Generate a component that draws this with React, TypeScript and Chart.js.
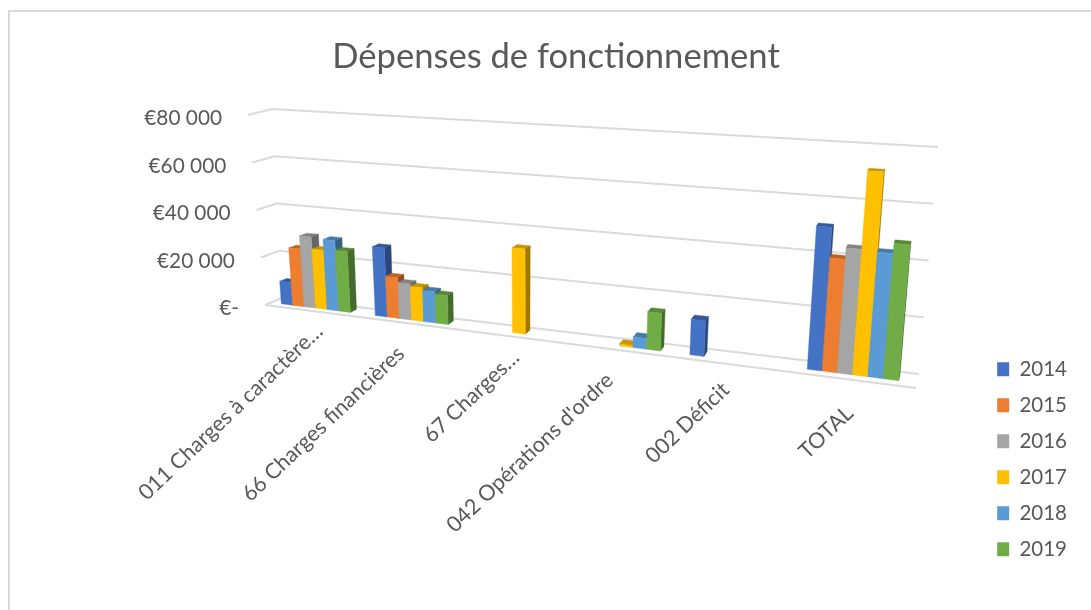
import React, { useEffect, useRef } from "react";
import { Chart, registerables } from "chart.js";

Chart.register(...registerables);

const categories = [
  "011 Charges à caractère…",
  "66 Charges financières",
  "67 Charges…",
  "042 Opérations d'ordre",
  "002 Déficit",
  "TOTAL",
];
const years = ["2014", "2015", "2016", "2017", "2018", "2019"];
const v2014 = [9500, 28000, null, null, 13000, 50800];
const v2015 = [24000, 16500, null, null, null, 40000];
const v2016 = [29500, 14500, null, null, null, 44000];
const v2017 = [24500, 13500, 33000, 700, null, 71500];
const v2018 = [29000, 12500, null, 4000, null, 43500];
const v2019 = [25000, 11500, null, 14000, null, 47000];
const seriesValues = [v2014, v2015, v2016, v2017, v2018, v2019];
const colors = ["#4472C4", "#ED7D31", "#A5A5A5", "#FFC000", "#5B9BD5", "#70AD47"];
const yTickValues = [0, 20000, 40000, 60000, 80000];

const FONT = "Lato";
const TEXT = "#595959";
const GRID = "#DADADA";

type Pt = [number, number];
const FRONT = { bl: [265, 305] as Pt, br: [916, 388] as Pt, tl: [248, 115] as Pt, tr: [937, 152] as Pt };
const BACK = { bl: [282, 298] as Pt, br: [919, 374] as Pt, tl: [272, 109] as Pt, tr: [938, 147] as Pt };
const PERSP = -0.155;
const BAR_FRONT = 0.38;
const BAR_BACK = 0.78;
const BAR_SHIFT = -2;

const lerp = (a: number, b: number, t: number) => a + (b - a) * t;
const bil = (q: typeof FRONT, u: number, v: number): Pt => {
  const bx = lerp(q.bl[0], q.br[0], u), by = lerp(q.bl[1], q.br[1], u);
  const tx = lerp(q.tl[0], q.tr[0], u), ty = lerp(q.tl[1], q.tr[1], u);
  return [lerp(bx, tx, v), lerp(by, ty, v)];
};
const proj = (u: number, v: number, d: number): Pt => {
  const s = ((1 + PERSP) * u) / (1 + PERSP * u);
  const f = bil(FRONT, s, v), b = bil(BACK, s, v);
  return [lerp(f[0], b[0], d), lerp(f[1], b[1], d)];
};
const barProj = (u: number, v: number, d: number): Pt => {
  const p = proj(u, v, d);
  return [p[0] + BAR_SHIFT, p[1]];
};
const shade = (hex: string, k: number) => {
  const n = parseInt(hex.slice(1), 16);
  return `rgb(${((n >> 16) & 255) * k},${((n >> 8) & 255) * k},${(n & 255) * k})`;
};
const poly = (ctx: CanvasRenderingContext2D, pts: Pt[], fill: string) => {
  ctx.beginPath();
  pts.forEach((p, i) => (i ? ctx.lineTo(p[0], p[1]) : ctx.moveTo(p[0], p[1])));
  ctx.closePath();
  ctx.fillStyle = fill;
  ctx.fill();
  ctx.strokeStyle = fill;
  ctx.lineWidth = 0.4;
  ctx.stroke();
};
const line = (ctx: CanvasRenderingContext2D, a: Pt, b: Pt) => {
  ctx.beginPath();
  ctx.moveTo(a[0], a[1]);
  ctx.lineTo(b[0], b[1]);
  ctx.stroke();
};

const labelEnds: Pt[] = [[8, 17], [-7, 27], [6, 18], [-8, 27], [-6, 22], [-3, 30]];

const perspective3D = {
  id: "perspective3D",
  beforeDraw(chart: any) {
    const ctx = chart.ctx as CanvasRenderingContext2D;
    ctx.save();
    ctx.strokeStyle = "#D9D9D9";
    ctx.lineWidth = 2;
    ctx.beginPath();
    ctx.moveTo(9, 610);
    ctx.lineTo(9, 11);
    ctx.lineTo(1091, 11);
    ctx.stroke();
    ctx.restore();
  },
  beforeDatasetDraw() {
    return false;
  },
  beforeDatasetsDraw(chart: any) {
    const ctx = chart.ctx as CanvasRenderingContext2D;
    const area = chart.chartArea;
    const W = area.right - area.left, H = area.bottom - area.top;
    const yScale = chart.scales.y;
    const xScale = chart.scales.x;
    ctx.save();
    // walls and floor
    ctx.strokeStyle = GRID;
    ctx.lineWidth = 2;
    yScale.ticks.forEach((t: any) => {
      const v = (area.bottom - yScale.getPixelForValue(t.value)) / H;
      line(ctx, proj(0, v, 0), proj(0, v, 1));
      line(ctx, proj(0, v, 1), proj(1, v, 1));
    });
    line(ctx, proj(0, 0, 0), proj(1, 0, 0));
    // value labels
    ctx.fillStyle = TEXT;
    ctx.font = `20.8px ${FONT}`;
    ctx.textAlign = "right";
    ctx.textBaseline = "middle";
    yScale.ticks.forEach((t: any) => {
      const v = (area.bottom - yScale.getPixelForValue(t.value)) / H;
      const p = proj(0, v, 0);
      ctx.fillText(t.label as string, p[0] - 26, p[1] + 3.5);
    });
    // category labels
    xScale.ticks.forEach((t: any, i: number) => {
      const u = (xScale.getPixelForTick(i) - area.left) / W;
      const p = proj(u, 0, 0);
      const off = labelEnds[i];
      ctx.save();
      ctx.translate(p[0] + off[0], p[1] + off[1]);
      ctx.rotate((-43.5 * Math.PI) / 180);
      ctx.textAlign = "right";
      ctx.textBaseline = "middle";
      ctx.font = `21.5px ${FONT}`;
      ctx.fillText(t.label as string, 0, 0);
      ctx.restore();
    });
    // bars
    chart.data.datasets.forEach((ds: any, di: number) => {
      const meta = chart.getDatasetMeta(di);
      meta.data.forEach((el: any, j: number) => {
        if (ds.data[j] == null) return;
        const u0 = (el.x - el.width / 2 - area.left) / W;
        const u1 = (el.x + el.width / 2 - area.left) / W;
        const v0 = (area.bottom - el.base) / H;
        const v1 = (area.bottom - el.y) / H;
        const c = ds.backgroundColor as string;
        poly(ctx, [barProj(u0, v1, BAR_FRONT), barProj(u1, v1, BAR_FRONT), barProj(u1, v1, BAR_BACK), barProj(u0, v1, BAR_BACK)], shade(c, 0.78));
        poly(ctx, [barProj(u1, v0, BAR_FRONT), barProj(u1, v0, BAR_BACK), barProj(u1, v1, BAR_BACK), barProj(u1, v1, BAR_FRONT)], shade(c, 0.62));
        poly(ctx, [barProj(u0, v0, BAR_FRONT), barProj(u1, v0, BAR_FRONT), barProj(u1, v1, BAR_FRONT), barProj(u0, v1, BAR_FRONT)], c);
      });
    });
    ctx.restore();
  },
};

export default function App() {
  const ref = useRef<HTMLCanvasElement>(null);
  useEffect(() => {
    const chart = new Chart(ref.current as HTMLCanvasElement, {
      type: "bar",
      data: {
        labels: categories,
        datasets: seriesValues.map((data, i) => ({
          label: years[i],
          data,
          backgroundColor: colors[i],
          categoryPercentage: 0.74,
          barPercentage: 1,
        })),
      },
      options: {
        responsive: false,
        animation: false,
        layout: { padding: { left: 35, top: 36, right: 14, bottom: 35 } },
        plugins: {
          tooltip: { enabled: false },
          title: {
            display: true,
            text: "Dépenses de fonctionnement",
            color: TEXT,
            font: { family: FONT, size: 34.6, weight: "normal" },
            padding: { top: 0, bottom: 10 },
          },
          legend: {
            position: "right",
            align: "end",
            labels: {
              boxWidth: 12,
              boxHeight: 14,
              padding: 15.5,
              color: TEXT,
              font: { family: FONT, size: 20.5 },
            },
          },
        },
        scales: {
          x: {
            grid: { display: false },
            border: { display: false },
            ticks: { display: false },
          },
          y: {
            min: 0,
            max: 80000,
            afterBuildTicks: (axis: any) => {
              axis.ticks = yTickValues.map((value) => ({ value }));
            },
            grid: { display: false },
            border: { display: false },
            ticks: {
              display: false,
              callback: (v: any) =>
                Number(v) === 0 ? "€-" : "€" + String(v).replace(/(\d+)(\d{3})$/, "$1 $2"),
            },
          },
        },
      },
      plugins: [perspective3D],
    } as any);
    return () => chart.destroy();
  }, []);
  return (
    <div style={{ position: "absolute", left: 0, top: 0, width: 1091, height: 610, background: "#fff" }}>
      <canvas ref={ref} width={1091} height={610} style={{ display: "block", filter: "blur(0.5px)" }} />
    </div>
  );
}
